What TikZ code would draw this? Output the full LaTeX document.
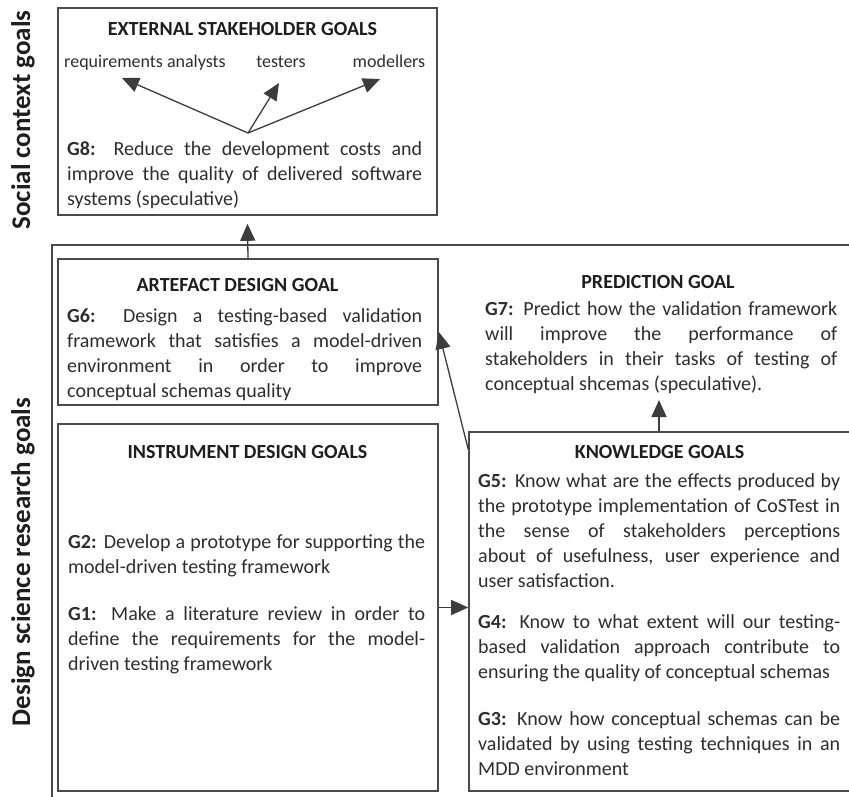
\documentclass[tikz,border=0pt]{standalone}
\usepackage{fontspec}
\setmainfont{Carlito}
\usetikzlibrary{arrows.meta}

\definecolor{boxline}{HTML}{4A4A4A}
\definecolor{ink}{HTML}{2E2E2E}
\definecolor{arrowc}{HTML}{3C3C3C}
\definecolor{headink}{HTML}{1E1E1E}

\newcommand\goalbodyfont{\fontsize{20}{25}\selectfont\parindent=0pt}

\begin{document}
\begin{tikzpicture}[x=1pt,y=-1pt,
  goalbox/.style={draw=boxline, line width=1.6pt, inner sep=0pt},
  heading/.style={font=\fontsize{20}{25}\selectfont\bfseries, text=headink, inner sep=0pt},
  para/.style={anchor=north west, inner sep=0pt, text width=#1, align=justify,
               font=\goalbodyfont, text=ink},
  who/.style={anchor=base, font=\fontsize{18}{22}\selectfont, text=ink, inner sep=0pt},
  link/.style={draw=arrowc, line width=1.3pt, -{Triangle[length=17pt,width=15pt]}},
  side/.style={rotate=90, anchor=base, font=\fontsize{27}{30}\selectfont\bfseries,
               text=headink, inner sep=0pt}
]
\clip (0,0) rectangle (849,796);
\fill[white] (0,0) rectangle (849,796);

% group labels
\node[side] (social) at (30,120) {Social context goals};
\node[side] (dsr) at (30,562) {Design science research goals};

% frame around the design science goals (open to the right and bottom)
\node[goalbox, minimum width=848pt, minimum height=605pt] (dsrframe) at (476,547.5) {};

% goal boxes
\node[goalbox, minimum width=379pt, minimum height=207pt] (ext)  at (247.5,111.5) {};
\node[goalbox, minimum width=380pt, minimum height=146pt] (art)  at (248,332) {};
\node[goalbox, minimum width=380pt, minimum height=367pt] (inst) at (248,607.5) {};
\node[goalbox, minimum width=387pt, minimum height=359pt] (know) at (662.5,611.5) {};

% headings
\node[heading] (exthead)  at (242.5,29) {EXTERNAL STAKEHOLDER GOALS};
\node[heading] (arthead)  at (237.5,285) {ARTEFACT DESIGN GOAL};
\node[heading] (insthead) at (247.5,452) {INSTRUMENT DESIGN GOALS};
\node[heading] (knowhead) at (659.5,452) {KNOWLEDGE GOALS};
\node[heading] (predhead) at (658,282) {PREDICTION GOAL};

% stakeholders
\node[who] (analysts)  at (145,67) {requirements analysts};
\node[who] (testers)   at (281,67) {testers};
\node[who] (modellers) at (389,67) {modellers};

% goal texts
\node[para=355pt] (g8) at (67,138) {\strut\textbf{G8:} Reduce the development costs and\linebreak
  improve the quality of delivered software\linebreak systems (speculative)};
\node[para=355pt] (g6) at (67,305) {\strut\textbf{G6:} Design a testing-based validation\linebreak
  framework that satisfies a model-driven\linebreak environment in order to improve\linebreak
  conceptual schemas quality};
\node[para=352pt] (g7) at (485,298) {\strut\textbf{G7:} Predict how the validation framework\linebreak
  will improve the performance of\linebreak stakeholders in their tasks of testing of\linebreak
  conceptual shcemas (speculative).};
\node[para=357pt] (g2) at (68,531) {\strut\textbf{G2:} Develop a prototype for supporting the\linebreak
  model-driven testing framework};
\node[para=357pt] (g1) at (68,603) {\strut\textbf{G1:} Make a literature review in order to\linebreak
  define the requirements for the model-\linebreak driven testing framework};
\node[para=362pt] (g5) at (478,470) {\strut\textbf{G5:} Know what are the effects produced by\linebreak
  the prototype implementation of CoSTest in\linebreak the sense of stakeholders perceptions\linebreak
  about of usefulness, user experience and\linebreak user satisfaction.};
\node[para=362pt] (g4) at (478,611) {\strut\textbf{G4:} Know to what extent will our testing-\linebreak
  based validation approach contribute to\linebreak ensuring the quality of conceptual schemas};
\node[para=362pt] (g3) at (478,708) {\strut\textbf{G3:} Know how conceptual schemas can be\linebreak
  validated by using testing techniques in an\linebreak MDD environment};

% arrows from G8 to the stakeholders
\coordinate (hub) at (248,133);
\coordinate (toanalysts) at (122,78);
\coordinate (totesters) at (279,83);
\coordinate (tomodellers) at (380,79);
\draw[link] (hub) -- (toanalysts);
\draw[link] (hub) -- (totesters);
\draw[link] (hub) -- (tomodellers);

% links between goals
\draw[link] (art.north) -- ([yshift=-8pt]ext.south);
\draw[link] ([yshift=-18pt]know.north west) -- (art.east);
\draw[link] (inst.east) -- (inst.east -| know.west);
\coordinate (predfoot) at (659,400);
\draw[link] (know.north west -| predfoot) -- (predfoot);
\end{tikzpicture}
\end{document}
